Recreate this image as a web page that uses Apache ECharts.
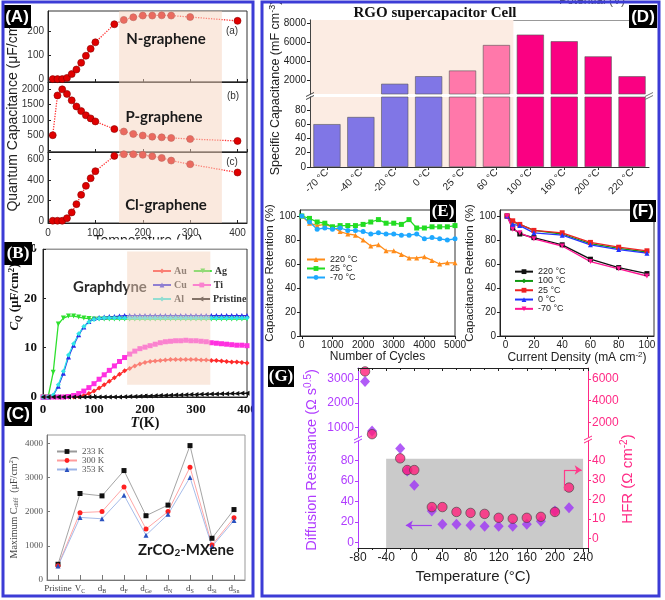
<!DOCTYPE html>
<html><head><meta charset="utf-8">
<script src="https://cdn.jsdelivr.net/npm/echarts@6/dist/echarts.min.js"></script>
<style>html,body{margin:0;padding:0;background:#fff}#c{width:665px;height:600px}</style>
</head><body><div id="c"></div>
<script>
// ---------------- DATA ----------------
// (A) quantum capacitance vs temperature
const A_T  = [10,20,30,40,50,60,70,80,90,100,140,160,180,200,220,240,260,300,400];
const A_N  = [0,0,0,5,21,40,68,97,126,153,228,246,257,264,264,265,264,258,242];
const A_P  = [500,1800,2000,1850,1640,1440,1290,1150,1050,950,700,620,540,490,450,430,410,375,310];
const A_Cl = [0,0,0,25,82,163,254,342,417,486,636,652,652,646,633,616,590,554,473];
const A_SHADE = [150, 367];
// (B) graphdyne
const B_T = [0,10,20,30,40,50,60,70,80,90,100,110,120,130,140,150,160,170,180,190,200,210,220,230,240,250,260,270,280,290,300,310,320,330,340,350,360,370,380,390,400];
const B_Au = [0,0,0,0,0,0,0,0.1,0.3,0.7,1.2,1.8,2.5,3.2,3.9,4.6,5.3,5.8,6.3,6.7,7.0,7.2,7.3,7.4,7.5,7.6,7.6,7.6,7.6,7.6,7.6,7.5,7.5,7.4,7.4,7.3,7.2,7.1,7.1,7.0,6.9];
const B_Ag = [0,0,5.0,14.8,16.0,16.4,16.4,16.2,16.0,15.9,15.8,15.8,15.8,15.8,15.8,15.8,15.8,15.8,15.8,15.8,15.8,15.8,15.8,15.8,15.8,15.8,15.8,15.8,15.8,15.8,15.8,15.8,15.8,15.8,15.8,15.8,15.8,15.8,15.8,15.8,15.8];
const B_Cu = [0,0,0.3,2.2,4.8,8.1,10.5,12.6,14.2,15.3,15.9,16.1,16.2,16.3,16.3,16.4,16.5,16.5,16.5,16.5,16.5,16.5,16.5,16.5,16.5,16.5,16.5,16.5,16.5,16.5,16.5,16.5,16.5,16.5,16.5,16.5,16.5,16.5,16.5,16.5,16.5];
const B_Ti = [0,0,0,0,0,0.1,0.3,0.7,1.2,1.9,2.7,3.6,4.5,5.4,6.3,7.2,8.0,8.7,9.3,9.8,10.1,10.4,10.7,11.0,11.2,11.3,11.4,11.4,11.5,11.4,11.4,11.3,11.2,11.0,10.9,10.8,10.7,10.6,10.5,10.5,10.4];
const B_Al = [0,0,0.4,2.5,5.2,8.5,10.8,12.8,14.3,15.2,15.7,15.9,16.0,16.0,16.0,16.0,16.0,16.0,16.0,16.0,16.0,16.0,16.0,16.0,16.0,16.0,16.0,16.0,16.0,16.0,16.0,16.0,16.0,16.0,16.0,16.0,16.0,16.0,16.0,16.0,16.0];
const B_Pr = [0,0,0,0,0,0,0,0,0,0,0,0,0,0,0,0,0.05,0.1,0.1,0.15,0.2,0.2,0.25,0.3,0.3,0.35,0.4,0.4,0.45,0.5,0.5,0.55,0.55,0.6,0.6,0.65,0.65,0.7,0.7,0.75,0.75];
const B_SHADE_X = [165, 328];
const B_SHADE_Y = [2.5, 29.5];
// (C) ZrCO2-MXene
const C_CATS = ['Pristine','V_C','d_B','d_F','d_Ge','d_N','d_S','d_Si','d_Sn'];
const C_233 = [460,2530,2460,3200,1880,2190,3930,1220,2060];
const C_300 = [420,1970,2000,2720,1490,2000,3300,1020,1820];
const C_353 = [410,1830,1790,2480,1310,1920,3000,980,1740];
// (D) RGO supercapacitor cell
const D_CATS = ['-70 °C','-40 °C','-20 °C','0 °C','25 °C','60 °C','100 °C','160 °C','200 °C','220 °C'];
const D_VALS = [60,70,1600,2400,3000,5700,6800,6100,4500,2400];
const D_SHADE = [0, 6];
// (E) cycling
const E_X    = [0,250,500,750,1000,1250,1500,1750,2000,2250,2500,2750,3000,3250,3500,3750,4000,4250,4500,4750,5000];
const E_220  = [100,94,92,93,91,87,85,84,80,75,76,71,71,68,65,65,66,63,60,61,61];
const E_25   = [100,98,95,94,91,92,92,92,93,95,97,94,94,93,97,90,90,91,91,91,92];
const E_m70  = [100,95,89,90,89,90,88,88,87,85,86,85,85,84,84,85,81,82,81,80,81];
// (F) rate capability
const F_X    = [1,5,10,20,40,60,80,100];
const F_220  = [100,90,85,82,76,64,57,52];
const F_100  = [100,95,93,88,85,77,73,70];
const F_25   = [100,96,93,88,86,78,74,71];
const F_0    = [100,93,92,86,84,76,72,69];
const F_m70  = [100,89,86,81,75,62,56,50];
// (G) resistances
const G_T  = [-70,-60,-20,-10,0,25,40,60,80,100,120,140,160,180,200,220];
const G_D  = [2900,850,92,70,56,31,18,18,17,16,16,16,18,21,31,34];
const G_H  = [6700,900,41,35,35,16,16,13.5,13,12.5,10.5,10,10.5,11,13.5,26];
const G_SHADE = [-40, 240, 82];

// ---------------- HELPERS ----------------
const SANS = 'Liberation Sans', SERIF = 'Liberation Serif', HUM = 'Lato';
const zip = (xs, ys) => xs.map((x, i) => [x, ys[i]]);
const plain = v => String(Math.round(v * 1000) / 1000);
function deep(a, b) {
  for (const k in b) {
    if (b[k] && typeof b[k] === 'object' && !Array.isArray(b[k]) && a[k] && typeof a[k] === 'object') deep(a[k], b[k]);
    else a[k] = b[k];
  }
  return a;
}
function vAxis(gridIndex, min, max, step, ext) {
  const onTick = v => Math.abs(v / step - Math.round(v / step)) < 1e-9;
  return deep({
    type: 'value', gridIndex, min, max, minInterval: step, maxInterval: step,
    splitNumber: Math.max(1, Math.round((max - min) / step)),
    splitLine: {show: false},
    axisLine: {show: true, onZero: false, lineStyle: {color: '#222', width: 1}},
    axisTick: {show: true, length: 3, lineStyle: {color: '#222'}},
    axisLabel: {fontSize: 10, color: '#222', margin: 4, formatter: plain, showMinLabel: onTick(min), showMaxLabel: onTick(max)}
  }, ext || {});
}
function tk(size, family, color, weight, extra) {
  return Object.assign({fontSize: size, fontFamily: family, color: color, fill: color, fontWeight: weight || 'normal'}, extra || {});
}
function rich(size, family, color, weight) {
  return {
    n: tk(size, family, color, weight),
    i: tk(size, family, color, weight, {fontStyle: 'italic'}),
    p: tk(Math.round(size * 0.68), family, color, weight, {verticalAlign: 'top', padding: [0, 0, Math.round(size * 0.5), 0]}),
    s: tk(Math.round(size * 0.68), family, color, weight, {verticalAlign: 'bottom', padding: [Math.round(size * 0.4), 0, 0, 0]}),
    si: tk(Math.round(size * 0.68), family, color, weight, {fontStyle: 'italic', verticalAlign: 'bottom', padding: [Math.round(size * 0.4), 0, 0, 0]})
  };
}
function gtext(x, y, text, r, opt) {
  opt = opt || {};
  return {type: 'text', x: x, y: y, rotation: opt.rot || 0, z: opt.z == null ? 50 : opt.z, silent: true,
    style: {text: text, rich: r, align: opt.align || 'center', verticalAlign: 'middle',
            textAlign: opt.align || 'center', textVerticalAlign: 'middle'}};
}
function plabel(x, y, w, h, text, family) {
  return [
    {type: 'rect', shape: {x: x, y: y, width: w, height: h}, style: {fill: '#000'}, z: 70, silent: true},
    gtext(x + w / 2, y + h / 2 + 0.5, '{n|' + text + '}', {n: tk(17, family, '#fff', 'bold')}, {z: 71})
  ];
}
function brk(x, y, color) {
  return [
    {type: 'line', shape: {x1: x - 4, y1: y + 1, x2: x + 4, y2: y - 3}, style: {stroke: color, lineWidth: 1}, z: 60, silent: true},
    {type: 'line', shape: {x1: x - 4, y1: y + 4, x2: x + 4, y2: y}, style: {stroke: color, lineWidth: 1}, z: 60, silent: true}
  ];
}

// ---------------- GRIDS ----------------
const GRIDS = [
  {left: 48, top: 11, width: 199, height: 71},   // 0 A-a
  {left: 48, top: 82, width: 199, height: 70},   // 1 A-b
  {left: 48, top: 152, width: 199, height: 71},  // 2 A-c
  {left: 43, top: 249, width: 204, height: 148}, // 3 B
  {left: 47, top: 435, width: 198, height: 145}, // 4 C
  {left: 310, top: 20, width: 339, height: 74},  // 5 D up
  {left: 310, top: 97, width: 339, height: 70},  // 6 D low
  {left: 300, top: 210, width: 155, height: 126},// 7 E
  {left: 500, top: 210, width: 154, height: 126},// 8 F
  {left: 358, top: 368, width: 230, height: 69}, // 9 G up
  {left: 358, top: 441, width: 230, height: 107} // 10 G low
].map((g, i) => Object.assign({containLabel: false, outerBoundsMode: 'none',
  show: [0,1,2,3,4,7,8].includes(i), borderColor: i === 4 ? '#999' : '#333', borderWidth: 1, backgroundColor: 'transparent'}, g));

// ---------------- AXES ----------------
const aTickIn = {axisTick: {inside: true}, axisLabel: {fontSize: 10, color: '#333'}};
const serifBold = {axisTick: {inside: true}, axisLabel: {fontFamily: SERIF, fontWeight: 'bold', fontSize: 13, color: '#111', margin: 6}};
const PURPLE = '#b03cff', PINK = '#ff2a85';
const gLeft = {axisLine: {lineStyle: {color: PURPLE}}, axisTick: {lineStyle: {color: PURPLE}}, axisLabel: {color: PURPLE, fontSize: 12}, z: 5};
const gRight = {position: 'right', axisLine: {lineStyle: {color: PINK}}, axisTick: {lineStyle: {color: PINK}}, axisLabel: {color: PINK, fontSize: 12}, z: 5};
const cLab = {
  interval: 0, margin: 4,
  formatter: v => { const p = v.split('_'); return p[1] ? '{n|' + p[0] + '}{s|' + p[1] + '}' : '{n|' + p[0] + '}'; },
  rich: rich(9, SERIF, '#444')
};

const xAxis = [
  vAxis(0, 0, 420, 100, deep({axisLabel: {show: false}}, aTickIn)),
  vAxis(1, 0, 420, 100, deep({axisLabel: {show: false}}, aTickIn)),
  vAxis(2, 0, 420, 100, deep({axisLabel: {margin: 5}}, aTickIn)),
  vAxis(3, 0, 400, 100, serifBold),
  {type: 'category', gridIndex: 4, data: C_CATS, boundaryGap: true,
   axisLine: {onZero: false, lineStyle: {color: '#777'}}, axisTick: {show: true, alignWithLabel: true, inside: true, lineStyle: {color: '#777'}},
   axisLabel: cLab},
  {type: 'category', gridIndex: 5, data: D_CATS, position: 'top', axisLine: {show: true, onZero: false, lineStyle: {color: '#999'}}, axisTick: {show: false}, axisLabel: {show: false}},
  {type: 'category', gridIndex: 6, data: D_CATS, z: 5, axisLine: {onZero: false, lineStyle: {color: '#333'}},
   axisTick: {show: true, alignWithLabel: true, length: 3}, axisLabel: {interval: 0, rotate: 45, fontSize: 10, color: '#222', margin: 4}},
  {type: 'value', gridIndex: 5, min: 0, max: D_CATS.length, show: false},
  {type: 'value', gridIndex: 6, min: 0, max: D_CATS.length, show: false},
  vAxis(7, -60, 5000, 1000, {name: 'Number of Cycles', nameLocation: 'middle', nameGap: 13, nameTextStyle: {fontSize: 12, color: '#222'}}),
  vAxis(8, -4, 105, 20, {name: '{n|Current Density (mA cm}{p|-2}{n|)}', nameLocation: 'middle', nameGap: 12, nameTextStyle: {rich: rich(12, SANS, '#222')}}),
  vAxis(9, -80, 247, 40, {position: 'top', z: 5, axisLabel: {show: false}, axisTick: {inside: true}, minorTick: {show: true, splitNumber: 2, length: 2}}),
  vAxis(10, -80, 247, 40, {z: 5, axisLabel: {fontSize: 12, color: '#222'}, axisTick: {length: 4}, minorTick: {show: true, splitNumber: 2, length: 2},
    name: 'Temperature (°C)', nameLocation: 'middle', nameGap: 21, nameTextStyle: {fontSize: 15, color: '#222'}})
];

const yAxis = [
  vAxis(0, -12, 283, 100, aTickIn),
  vAxis(1, -50, 2240, 500, aTickIn),
  vAxis(2, -22, 674, 200, aTickIn),
  vAxis(3, 0, 30, 10, serifBold),
  vAxis(4, 0, 4240, 1000, {axisLine: {lineStyle: {color: '#777'}}, axisTick: {inside: true, lineStyle: {color: '#777'}},
    axisLabel: {fontFamily: SERIF, fontSize: 9, color: '#555'},
    name: '{n|Maximum C}{s|diff}{n|  (μF/cm}{p|2}{n|)}', nameLocation: 'middle', nameGap: 27, nameTextStyle: {rich: rich(10, SERIF, '#444')}}),
  vAxis(5, 518, 8349, 2000, {z: 5, axisLine: {lineStyle: {color: '#444'}}}),
  vAxis(6, 0, 98, 20, {z: 5, axisLine: {lineStyle: {color: '#444'}}}),
  vAxis(7, 0, 105, 20, {name: 'Capacitance Retention (%)', nameLocation: 'middle', nameGap: 19, nameTextStyle: {fontSize: 11.5, color: '#222'}}),
  vAxis(8, 0, 105, 20, {name: 'Capacitance Retention (%)', nameLocation: 'middle', nameGap: 19, nameTextStyle: {fontSize: 11.5, color: '#222'}}),
  vAxis(9, 598, 3455, 1000, gLeft),
  vAxis(9, 642, 7016, 2000, gRight),
  vAxis(10, -5.2, 99.2, 20, gLeft),
  vAxis(10, -5, 49.9, 10, gRight),
  {type: 'value', gridIndex: 5, position: 'right', min: 0, max: 1, axisLine: {show: true, lineStyle: {color: '#999'}}, axisTick: {show: false}, axisLabel: {show: false}, splitLine: {show: false}},
  {type: 'value', gridIndex: 6, position: 'right', min: 0, max: 1, axisLine: {show: true, lineStyle: {color: '#999'}}, axisTick: {show: false}, axisLabel: {show: false}, splitLine: {show: false}}
];

// ---------------- SERIES ----------------
const series = [];
// A
[[A_N, 'N-graphene'], [A_P, 'P-graphene'], [A_Cl, 'Cl-graphene']].forEach(([vals, name], i) => {
  series.push({name, type: 'line', xAxisIndex: i, yAxisIndex: i, data: zip(A_T, vals), symbol: 'circle', symbolSize: 7,
    itemStyle: {color: '#e00000', borderColor: '#800', borderWidth: 0.6}, lineStyle: {color: '#ff3030', width: 1.3, type: 'dotted'}, z: 3});
  series.push({type: 'line', xAxisIndex: i, yAxisIndex: i, data: [], z: 10, silent: true,
    markArea: {silent: true, z: 10, itemStyle: {color: 'rgba(246,212,190,0.5)'}, data: [[{xAxis: A_SHADE[0]}, {xAxis: A_SHADE[1]}]]}});
});
// B
[
  ['Au', B_Au, '#ff2a2a', 'diamond', 0],
  ['Ag', B_Ag, '#2ee02e', 'triangle', 180],
  ['Cu', B_Cu, '#2a2ae6', 'triangle', 0],
  ['Ti', B_Ti, '#ff30e0', 'rect', 0],
  ['Al', B_Al, '#30e6e6', 'diamond', 0],
  ['Pristine', B_Pr, '#111111', 'triangle', 90]
].forEach(([name, vals, color, sym, rot]) => {
  series.push({name, type: 'line', xAxisIndex: 3, yAxisIndex: 3, data: zip(B_T, vals), symbol: sym, symbolRotate: rot, symbolSize: 5,
    itemStyle: {color}, lineStyle: {color, width: 1.3}, z: 3});
});
series.push({type: 'line', xAxisIndex: 3, yAxisIndex: 3, data: [], z: 10, silent: true,
  markArea: {silent: true, z: 10, itemStyle: {color: 'rgba(246,212,190,0.5)'},
    data: [[{xAxis: B_SHADE_X[0], yAxis: B_SHADE_Y[0]}, {xAxis: B_SHADE_X[1], yAxis: B_SHADE_Y[1]}]]}});
// C
[['233 K', C_233, '#9a9a9a', '#111', 'rect'], ['300 K', C_300, '#ff9c9c', '#ff2020', 'circle'], ['353 K', C_353, '#9cb4e6', '#2a52c0', 'triangle']]
.forEach(([name, vals, lc, mc, sym]) => {
  series.push({name, type: 'line', xAxisIndex: 4, yAxisIndex: 4, data: vals, symbol: sym, symbolSize: 5,
    itemStyle: {color: mc}, lineStyle: {color: lc, width: 0.9}, z: 3});
});
// D
const D_COLORS = ['#8076e6','#8076e6','#8076e6','#8076e6','#ff78aa','#ff78aa','#fa0082','#fa0082','#fa0082','#fa0082'];
[[5, 5], [6, 6]].forEach(([xi, yi]) => {
  series.push({type: 'bar', xAxisIndex: xi, yAxisIndex: yi, data: D_VALS, barCategoryGap: '20%', clip: true, z: 2,
    itemStyle: {color: p => D_COLORS[p.dataIndex], borderColor: '#555', borderWidth: 0.6}});
});
[[7, 5], [8, 6]].forEach(([xi, yi]) => {
  series.push({type: 'line', xAxisIndex: xi, yAxisIndex: yi, data: [], z: 1, silent: true,
    markArea: {silent: true, itemStyle: {color: '#fcece3'}, data: [[{xAxis: D_SHADE[0]}, {xAxis: D_SHADE[1]}]]}});
});
// E
[['220 °C', E_220, '#ff8c1a', 'triangle'], ['25 °C', E_25, '#22dd22', 'rect'], ['-70 °C', E_m70, '#1ea8ff', 'circle']]
.forEach(([name, vals, c, sym]) => {
  series.push({name, type: 'line', xAxisIndex: 9, yAxisIndex: 7, data: zip(E_X, vals), symbol: sym, symbolSize: 5,
    itemStyle: {color: c}, lineStyle: {color: c, width: 1.3}, z: 3});
});
// F  (zero-width space keeps names distinct from panel E)
const ZW = '\u200b';
[['220 °C' + ZW, F_220, '#111111', 'rect'], ['100 °C' + ZW, F_100, '#119911', 'diamond'], ['25 °C' + ZW, F_25, '#ee2222', 'rect'],
 ['0 °C' + ZW, F_0, '#2233ff', 'triangle'], ['-70 °C' + ZW, F_m70, '#ff1493', 'triangle']]
.forEach(([name, vals, c, sym], i) => {
  series.push({name, type: 'line', xAxisIndex: 10, yAxisIndex: 8, data: zip(F_X, vals), symbol: sym, symbolRotate: i === 4 ? 180 : 0, symbolSize: 5,
    itemStyle: {color: c}, lineStyle: {color: c, width: 1.3}, z: 3});
});
// G
const dStyle = {symbol: 'diamond', symbolSize: [10, 11], itemStyle: {color: '#9d33f5'}};
const hStyle = {symbol: 'circle', symbolSize: 9.5, itemStyle: {color: '#ff1f7a', borderColor: '#444', borderWidth: 0.8}};
series.push(Object.assign({name: 'Diffusion up', type: 'scatter', xAxisIndex: 11, yAxisIndex: 9, data: zip(G_T, G_D), z: 3, clip: true}, dStyle));
series.push(Object.assign({name: 'Diffusion low', type: 'scatter', xAxisIndex: 12, yAxisIndex: 11, data: zip(G_T, G_D), z: 3, clip: true}, dStyle));
series.push(Object.assign({name: 'HFR up', type: 'scatter', xAxisIndex: 11, yAxisIndex: 10, data: zip(G_T, G_H), z: 4, clip: true}, hStyle));
series.push(Object.assign({name: 'HFR low', type: 'scatter', xAxisIndex: 12, yAxisIndex: 12, data: zip(G_T, G_H), z: 4, clip: true}, hStyle));
series.push({type: 'scatter', xAxisIndex: 12, yAxisIndex: 11, data: [], z: 1, silent: true,
  markArea: {silent: true, itemStyle: {color: '#cacaca'}, data: [[{xAxis: G_SHADE[0]}, {xAxis: G_SHADE[1], yAxis: G_SHADE[2]}]]}});
series.push({type: 'scatter', xAxisIndex: 12, yAxisIndex: 11, data: [], z: 5, silent: true,
  markLine: {silent: true, symbol: ['none', 'arrow'], symbolSize: 7, label: {show: false}, lineStyle: {color: '#a040f0', width: 1.2, type: 'solid'},
    data: [[{coord: [25, 17]}, {coord: [-12, 17]}]]}});
series.push({type: 'scatter', xAxisIndex: 12, yAxisIndex: 12, data: [], z: 5, silent: true,
  markLine: {silent: true, symbol: ['none', 'none'], symbolSize: 7, label: {show: false}, lineStyle: {color: '#ff3a8a', width: 1.2, type: 'solid'},
    data: [[{coord: [213, 24.5]}, {coord: [213, 35]}], [{coord: [213, 35]}, {coord: [238, 35], symbol: 'arrow'}]]}});

// ---------------- LEGENDS ----------------
const lgBase = {padding: 0, itemWidth: 18, itemHeight: 6, selectedMode: false};
const bTxt = {fontFamily: SERIF, fontWeight: 'bold', fontSize: 10, color: '#333', padding: [0, 0, 0, -2]};
const legend = [
  Object.assign({}, lgBase, {data: ['Au', 'Ag'], left: 152, top: 266, itemGap: 6, textStyle: bTxt}),
  Object.assign({}, lgBase, {data: ['Cu', 'Ti'], left: 152, top: 280, itemGap: 5, textStyle: bTxt}),
  Object.assign({}, lgBase, {data: ['Al', 'Pristine'], left: 152, top: 294, itemGap: 7, textStyle: bTxt}),
  Object.assign({}, lgBase, {data: ['233 K', '300 K', '353 K'], left: 56, top: 447, orient: 'vertical', itemGap: 0, itemWidth: 20,
    textStyle: {fontFamily: SERIF, fontSize: 9, lineHeight: 9, color: '#555'}}),
  Object.assign({}, lgBase, {data: ['220 °C', '25 °C', '-70 °C'], left: 306, top: 255, orient: 'vertical', itemGap: 0,
    textStyle: {fontSize: 9, lineHeight: 9, color: '#222'}}),
  Object.assign({}, lgBase, {data: ['220 °C' + ZW, '100 °C' + ZW, '25 °C' + ZW, '0 °C' + ZW, '-70 °C' + ZW], left: 514, top: 267, orient: 'vertical', itemGap: 0,
    textStyle: {fontSize: 9, lineHeight: 9.3, color: '#222'}})
];

// ---------------- GRAPHICS ----------------
const G = [];
// A annotations
G.push(gtext(166, 39, '{n|N-graphene}', {n: tk(15, HUM, '#1a1a1a', 'bold')}, {z: 20}));
G.push(gtext(164, 117, '{n|P-graphene}', {n: tk(15, HUM, '#1a1a1a', 'bold')}, {z: 20}));
G.push(gtext(166, 205, '{n|Cl-graphene}', {n: tk(15, HUM, '#1a1a1a', 'bold')}, {z: 20}));
G.push(gtext(232, 31, '{n|(a)}', {n: tk(10, SANS, '#333')}, {z: 20}));
G.push(gtext(233, 96, '{n|(b)}', {n: tk(10, SANS, '#333')}, {z: 20}));
G.push(gtext(232, 162, '{n|(c)}', {n: tk(10, SANS, '#333')}, {z: 20}));
G.push(gtext(13, 113, '{n|Quantum Capacitance (μF/cm}{p|2}{n|)}', rich(14, SANS, '#222'), {rot: Math.PI / 2}));
G.push(gtext(148, 241, '{n|Temperature ( K )}', rich(14, SANS, '#222'), {z: 20}));
G.push({type: 'rect', shape: {x: 35, y: 239.5, width: 215, height: 9}, style: {fill: '#fff'}, z: 30, silent: true});
// B annotations
G.push(gtext(110, 287, '{n|Graphdyne}', {n: tk(15, HUM, '#2a2a2a', 'bold')}, {z: 1}));
G.push(gtext(15, 297, '{i|C}{si|Q}{n| (μF/cm}{p|2}{n|)}', rich(13, SERIF, '#111', 'bold'), {rot: Math.PI / 2}));
G.push(gtext(145, 423, '{i|T}{n|(K)}', rich(14, SERIF, '#111', 'bold')));
// C annotation
G.push(gtext(186, 550, '{n|ZrCO}{s|2}{n|-MXene}', rich(15, HUM, '#1a1a1a', 'bold'), {z: 20}));
// D annotations
G.push(gtext(435, 13, '{n|RGO supercapacitor Cell}', {n: tk(15, SERIF, '#111', 'bold')}, {z: 20}));
G.push(gtext(592, 1, '{n|Potential (V)}', {n: tk(12, SANS, '#555')}, {z: 20}));
G.push(gtext(276, 88, '{n|Specific Capacitance (mF cm}{p|-3}{n|)}', rich(12.5, SANS, '#222'), {rot: Math.PI / 2}));
G.push(...brk(310, 95.5, '#444'), ...brk(649, 95.5, '#777'));
// G annotations
G.push(gtext(312, 460, '{n|Diffusion Resistance (Ω s}{p|0.5}{n|)}', rich(14.5, SANS, PURPLE), {rot: Math.PI / 2}));
G.push(gtext(628, 479, '{n|HFR (Ω cm}{p|-2}{n|)}', rich(15, SANS, PINK), {rot: Math.PI / 2}));
G.push(...brk(358, 439, PURPLE), ...brk(588, 439, PINK));
// panel labels
G.push(...plabel(3, 5, 28, 23, '(A)', SANS));
G.push(...plabel(4, 242, 28, 23, '(B)', SERIF));
G.push(...plabel(4, 402, 28, 24, '(C)', SANS));
G.push(...plabel(629, 5, 28, 23, '(D)', SANS));
G.push(...plabel(430, 200, 26, 22, '(E)', SERIF));
G.push(...plabel(630, 200, 26, 22, '(F)', SANS));
G.push(...plabel(268, 366, 26, 21, '(G)', SERIF));
// frames
G.push({type: 'rect', shape: {x: 254, y: 0, width: 8, height: 600}, style: {fill: '#fff'}, z: 100, silent: true});
G.push({type: 'rect', shape: {x: 3, y: 2, width: 250, height: 594}, style: {fill: 'none', stroke: '#3c3cd6', lineWidth: 3}, z: 101, silent: true});
G.push({type: 'rect', shape: {x: 262, y: 2, width: 397, height: 594}, style: {fill: 'none', stroke: '#3c3cd6', lineWidth: 3}, z: 101, silent: true});

const option = {
  animation: false,
  backgroundColor: '#fff',
  textStyle: {fontFamily: SANS},
  grid: GRIDS, xAxis, yAxis, legend, series,
  graphic: {elements: G}
};
const chart = echarts.init(document.getElementById('c'), null, {renderer: 'canvas'});
chart.setOption(option);
</script></body></html>
